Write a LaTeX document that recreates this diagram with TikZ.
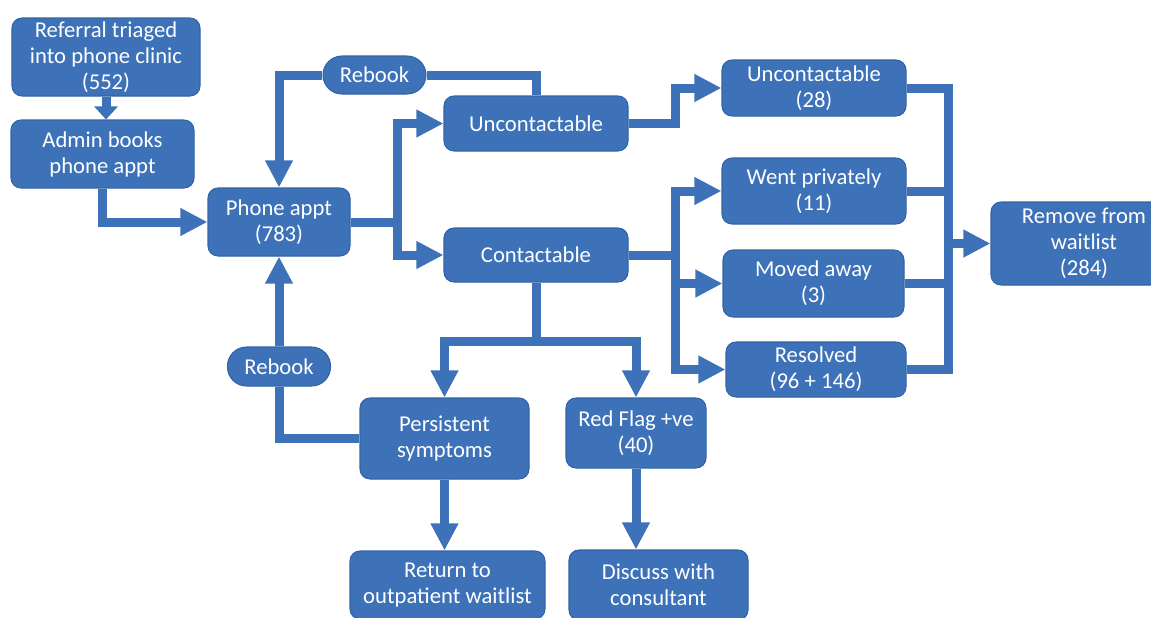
\documentclass[tikz,border=0pt]{standalone}
\usepackage{fontspec}
\setmainfont{Carlito}
\usetikzlibrary{arrows.meta}
\definecolor{flowblue}{HTML}{3D72B9}
\definecolor{edgeblue}{HTML}{3363A6}
\tikzstyle{block} = [rectangle, rounded corners=0.2cm, align=center, text centered, inner sep=0pt, draw=edgeblue, line width=0.6pt, fill=flowblue, text=white, font=\fontsize{12.9}{14.8}\selectfont]
\tikzstyle{pill} = [block, rounded corners=0.38cm]
\tikzstyle{link} = [draw=flowblue, line width=0.18cm]
\tikzstyle{arrow} = [link, -{Triangle[length=0.54cm, width=0.52cm]}]

\begin{document}
\begin{tikzpicture}
    \useasboundingbox (0,0) rectangle (23.02,-12.34);

        % left column
        \node (referral) [block, minimum width=3.76cm, minimum height=1.56cm] at (2.12,-1.14) {
            Referral triaged\\into phone clinic\\(552)
        };
        \node (admin) [block, minimum width=3.66cm, minimum height=1.36cm] at (2.05,-3.08) {
            Admin books\\phone appt
        };
        \node (phone) [block, minimum width=2.84cm, minimum height=1.36cm] at (5.58,-4.44) {
            Phone appt\\(783)
        };
        \node (rebooktop) [pill, minimum width=2.06cm, minimum height=0.76cm] at (7.49,-1.50) {Rebook};
        \node (rebookbot) [pill, minimum width=2.06cm, minimum height=0.78cm] at (5.58,-7.33) {Rebook};

        % middle
        \node (uncont) [block, minimum width=3.68cm, minimum height=1.10cm] at (10.72,-2.47) {Uncontactable};
        \node (contact) [block, minimum width=3.68cm, minimum height=1.08cm] at (10.72,-5.10) {Contactable};
        \node (persist) [block, minimum width=3.38cm, minimum height=1.62cm] at (8.89,-8.77) {
            Persistent\\symptoms
        };
        \node (redflag) [block, minimum width=2.80cm, minimum height=1.40cm] at (12.72,-8.66) {
            Red Flag +ve\\(40)
        };
        \node (return) [block, minimum width=3.90cm, minimum height=1.36cm] at (8.95,-11.70) {
            Return to\\outpatient waitlist
        };
        \node (discuss) [block, minimum width=3.58cm, minimum height=1.40cm] at (13.17,-11.70) {
            Discuss with\\consultant
        };

        % right column
        \node (unc28) [block, minimum width=3.68cm, minimum height=1.12cm] at (16.28,-1.76) {
            Uncontactable\\(28)
        };
        \node (private) [block, minimum width=3.68cm, minimum height=1.32cm] at (16.28,-3.82) {
            Went privately\\(11)
        };
        \node (moved) [block, minimum width=3.62cm, minimum height=1.34cm] at (16.27,-5.67) {
            Moved away\\(3)
        };
        \node (resolved) [block, minimum width=3.60cm, minimum height=1.10cm] at (16.32,-7.39) {
            Resolved\\(96 + 146)
        };
        \node (remove) [block, minimum width=3.72cm, minimum height=1.66cm] at (21.68,-4.87) {
            Remove from\\waitlist\\(284)
        };

        % connectors
        \draw [arrow, -{Triangle[length=0.26cm, width=0.46cm]}] (referral.south) -- (referral.south |- admin.north);
        \draw [arrow] (admin.south) |- (phone.west);
        \draw [link] (phone.east) -- ++(0.94,0) coordinate (split1);
        \draw [arrow] (split1) |- (uncont.west);
        \draw [arrow] (split1) |- (contact.west);
        \draw [link] (uncont.north) |- (rebooktop.east);
        \draw [arrow] (rebooktop.west) -| (phone.north);
        \draw [arrow] (uncont.east) -- ++(0.94,0) |- (unc28.west);
        \draw [link] (contact.east) -- ++(0.94,0) coordinate (split2);
        \draw [arrow] (split2) |- (private.west);
        \draw [arrow] (split2) |- (moved.west);
        \draw [arrow] (split2) |- (resolved.west);
        \coordinate (merge) at (18.96,-4.87);
        \draw [link] (unc28.east) -| (merge);
        \draw [link] (private.east) -| (merge);
        \draw [link] (moved.east) -| (merge);
        \draw [link] (resolved.east) -| (merge);
        \draw [arrow] (merge) -- (remove.west);
        \draw [link] (contact.south) -- ++(0,-1.18) coordinate (split3);
        \draw [arrow] (split3) -| (persist.north);
        \draw [arrow] (split3) -| (redflag.north);
        \draw [link] (persist.west) -| (rebookbot.south);
        \draw [arrow] (rebookbot.north) -- (phone.south);
        \draw [arrow] (persist.south) -- (persist.south |- return.north);
        \draw [arrow] (redflag.south) -- (redflag.south |- discuss.north);
\end{tikzpicture}
\end{document}
